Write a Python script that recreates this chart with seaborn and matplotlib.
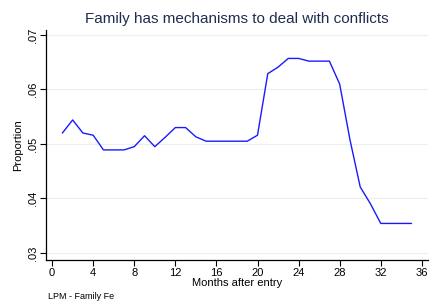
import pandas as pd
import matplotlib
matplotlib.use("Agg")
import matplotlib.pyplot as plt
import seaborn as sns

# values
months = list(range(1, 36))
proportion = [0.0520, 0.0544, 0.0520, 0.0516, 0.0489, 0.0489, 0.0489, 0.0495,
              0.0515, 0.0495, 0.0512, 0.0530, 0.0530, 0.0513, 0.0505, 0.0505,
              0.0505, 0.0505, 0.0505, 0.0516, 0.0629, 0.0641, 0.0657, 0.0657,
              0.0652, 0.0652, 0.0652, 0.0610, 0.0508, 0.0421, 0.0390, 0.0354,
              0.0354, 0.0354, 0.0354]
x_ticks = list(range(0, 37, 4))
y_ticks = [0.03, 0.04, 0.05, 0.06, 0.07]
y_labels = [".03", ".04", ".05", ".06", ".07"]

df = pd.DataFrame({"month": months, "prop": proportion})

sns.set_theme(style="white")
plt.rcParams["font.family"] = ["Liberation Sans", "DejaVu Sans"]
plt.rcParams["text.color"] = "black"
plt.rcParams["axes.labelcolor"] = "black"
plt.rcParams["xtick.color"] = "black"
plt.rcParams["ytick.color"] = "black"

fig = plt.figure(figsize=(4.45, 3.04), dpi=100)
ax = fig.add_axes([0.103, 0.145, 0.859, 0.756])

sns.lineplot(data=df, x="month", y="prop", color="#1a1aff", linewidth=1.0, ax=ax)

ax.set_xlim(-0.61, 36.61)
ax.set_ylim(0.0287, 0.0709)
ax.set_xticks(x_ticks)
ax.set_yticks(y_ticks)
ax.set_yticklabels(y_labels, rotation=90, va="center")
ax.grid(axis="y", color="#e8f0f1", linewidth=0.9)
ax.grid(axis="x", visible=False)

for side in ["top", "right"]:
    ax.spines[side].set_visible(False)
for side in ["left", "bottom"]:
    ax.spines[side].set_color("black")
    ax.spines[side].set_linewidth(0.9)

ax.tick_params(axis="both", which="major", direction="out", length=4, width=0.8,
               color="black", labelsize=8, pad=2, bottom=True, left=True)

ax.set_xlabel("Months after entry", fontsize=8, labelpad=0)
ax.set_ylabel("Proportion", fontsize=8, labelpad=3)
ax.set_title("Family has mechanisms to deal with conflicts", fontsize=11,
             color="#1e2d4f", pad=5)

fig.text(0.108, 0.015, "LPM - Family Fe", fontsize=6.5, color="black")

fig.savefig("out.png", dpi=100, facecolor="white")
